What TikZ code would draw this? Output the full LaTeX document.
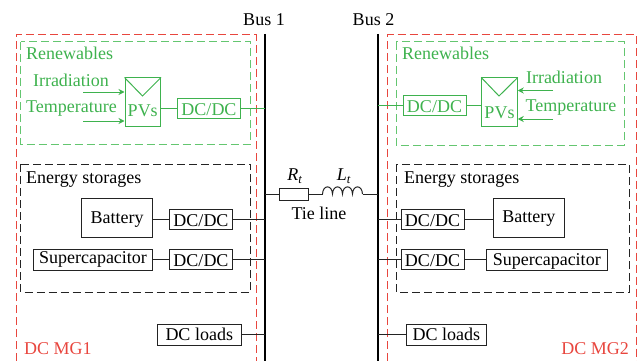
\documentclass[tikz,border=0pt]{standalone}
\usepackage{fontspec}
\setmainfont{Liberation Serif}
\usetikzlibrary{arrows.meta}
\definecolor{gn}{RGB}{62,178,78}
\definecolor{gnd}{RGB}{100,198,112}
\definecolor{rd}{RGB}{232,70,62}
\definecolor{bk}{RGB}{35,35,35}
\tikzset{
  bl/.style={text height=2*#1 pt,text depth=0pt},
  txt/.style={inner sep=0pt,font=\fontsize{18}{20}\selectfont,bl=6},
  blk/.style={draw=bk,line width=1pt,inner sep=0pt,font=\fontsize{18}{20}\selectfont,text=black,bl=6},
  gblk/.style={draw=gn,line width=1pt,inner sep=0pt,font=\fontsize{18}{20}\selectfont,text=gn,bl=6},
  wire/.style={bk,line width=1pt},
  gwire/.style={gn,line width=1pt},
  garrow/.style={gn,line width=1pt,-{Stealth[length=6pt,width=6pt]}},
  busbar/.style={black,line width=2.2pt},
  mg/.style={rd,line width=1pt,dash pattern=on 8pt off 4pt},
  grp/.style={line width=1pt,dash pattern=on 8pt off 4pt},
}
\begin{document}
\begin{tikzpicture}[x=1pt,y=-1pt]
\useasboundingbox (0,0) rectangle (640,361);
% microgrid frames
\draw[mg] (16,361) -- (16,35) -- (256,35) -- (256,361);
\draw[mg] (387.5,361) -- (387.5,35) -- (636,35) -- (636,361);
% group frames
\draw[grp,gnd] (20.5,42) rectangle (250.5,144);
\draw[grp,gnd] (396,42) rectangle (624,145);
\draw[grp,bk] (20.5,164) rectangle (250.5,292);
\draw[grp,bk] (396,164) rectangle (629,292);
% buses
\coordinate (b1) at (265,34);
\coordinate (b1e) at (265,361);
\coordinate (b2) at (378,34);
\coordinate (b2e) at (378,361);
\draw[busbar] (b1) -- (b1e);
\draw[busbar] (b2) -- (b2e);
\node[txt] (bus1) at (264,20) {Bus 1};
\node[txt] (bus2) at (373.5,20) {Bus 2};
% labels
\node[txt,text=gn,anchor=west] (ren1) at (26,53.5) {Renewables};
\node[txt,text=gn,anchor=west] (ren2) at (402,53.5) {Renewables};
\node[txt,text=gn] (irr1) at (71,80.7) {Irradiation};
\node[txt,text=gn] (tmp1) at (71.5,106.7) {Temperature};
\node[txt,text=gn] (irr2) at (564,78) {Irradiation};
\node[txt,text=gn] (tmp2) at (571,105.7) {Temperature};
\node[txt,anchor=west] (es1) at (26,177) {Energy storages};
\node[txt,anchor=west] (es2) at (404,177) {Energy storages};
\node[txt,text=rd,anchor=west] (mg1) at (24,348.3) {DC MG1};
\node[txt,text=rd,anchor=east] (mg2) at (629,348.3) {DC MG2};
% left PV
\node[gblk,minimum width=35.5pt,minimum height=48pt] (pv1) at (142.75,102) {};
\node[txt,text=gn] (pv1t) at (142.75,110) {PVs};
\draw[gwire] (pv1.north west) -- (142.5,96) -- (pv1.north east);
\node[gblk,bl=7,minimum width=63pt,minimum height=20pt] (dg1) at (209,108) {DC/DC};
\draw[gwire] (pv1.east |- dg1.west) -- (dg1.west);
\draw[gwire] (dg1.east) -- (dg1.east -| b1);
\coordinate (ia1) at (83,92);
\coordinate (ta1) at (83,121);
\draw[garrow] (ia1) -- (ia1 -| pv1.west);
\draw[garrow] (ta1) -- (ta1 -| pv1.west);
% right PV
\node[gblk,minimum width=35.5pt,minimum height=48pt] (pv2) at (499.5,102) {};
\node[txt,text=gn] (pv2t) at (499.5,112) {PVs};
\draw[gwire] (pv2.north west) -- (499,96) -- (pv2.north east);
\node[gblk,bl=6.7,minimum width=63pt,minimum height=20pt] (dg2) at (434.5,105.5) {DC/DC};
\draw[gwire] (pv2.west |- dg2.east) -- (dg2.east);
\draw[gwire] (dg2.west) -- (dg2.west -| b2);
\coordinate (ia2) at (553,90.5);
\coordinate (ta2) at (553,119);
\draw[garrow] (ia2) -- (ia2 -| pv2.east);
\draw[garrow] (ta2) -- (ta2 -| pv2.east);
% left storage
\node[blk,minimum width=71pt,minimum height=39.5pt] (bat1) at (117,217.75) {Battery};
\node[blk,bl=7.2,minimum width=63pt,minimum height=20pt] (d1) at (201,219.5) {DC/DC};
\node[blk,bl=3.5,minimum width=119pt,minimum height=21pt] (sc1) at (93,259.5) {Supercapacitor};
\node[blk,bl=7.7,minimum width=63pt,minimum height=20pt] (d2) at (201,259) {DC/DC};
\draw[wire] (bat1.east |- d1.west) -- (d1.west);
\draw[wire] (d1.east) -- (d1.east -| b1);
\draw[wire] (sc1.east |- d2.west) -- (d2.west);
\draw[wire] (d2.east) -- (d2.east -| b1);
\node[blk,bl=6.2,minimum width=84.5pt,minimum height=21pt] (ld1) at (199.25,334.5) {DC loads};
\draw[wire] (ld1.east) -- (ld1.east -| b1);
% right storage
\node[blk,bl=5,minimum width=70.5pt,minimum height=39.5pt] (bat2) at (528.75,217.75) {Battery};
\node[blk,bl=7.2,minimum width=63pt,minimum height=20pt] (d3) at (432.5,219.5) {DC/DC};
\node[blk,bl=5.5,minimum width=121.5pt,minimum height=21pt] (sc2) at (546.75,259.5) {Supercapacitor};
\node[blk,bl=7.7,minimum width=63pt,minimum height=20pt] (d4) at (432.5,259) {DC/DC};
\draw[wire] (d3.east) -- (d3.east -| bat2.west);
\draw[wire] (d3.west) -- (d3.west -| b2);
\draw[wire] (d4.east) -- (d4.east -| sc2.west);
\draw[wire] (d4.west) -- (d4.west -| b2);
\node[blk,bl=6.2,minimum width=79.5pt,minimum height=21pt] (ld2) at (446.25,334.5) {DC loads};
\draw[wire] (ld2.west) -- (ld2.west -| b2);
% tie line
\node[blk,minimum width=29pt,minimum height=12pt] (rt) at (294,194) {};
\coordinate (ls) at (322.5,194);
\coordinate (le) at (362.5,194);
\draw[wire] (rt.west -| b1) -- (rt.west);
\draw[wire] (rt.east) -- (ls);
\draw[wire] (ls)
  .. controls +(0.5,-9.5) and +(-0.5,-9.5) .. ++(10,0)
  .. controls +(0.5,-9.5) and +(-0.5,-9.5) .. ++(10,0)
  .. controls +(0.5,-9.5) and +(-0.5,-9.5) .. ++(10,0)
  .. controls +(0.5,-9.5) and +(-0.5,-9.5) .. (le);
\draw[wire] (le) -- (le -| b2);
\node[txt] (rl) at (295,174.7) {\textit{R}\textsubscript{\textit{t}}};
\node[txt] (ll) at (344,174.7) {\textit{L}\textsubscript{\textit{t}}};
\node[txt] (tl) at (319,213.3) {Tie line};
\end{tikzpicture}
\end{document}
